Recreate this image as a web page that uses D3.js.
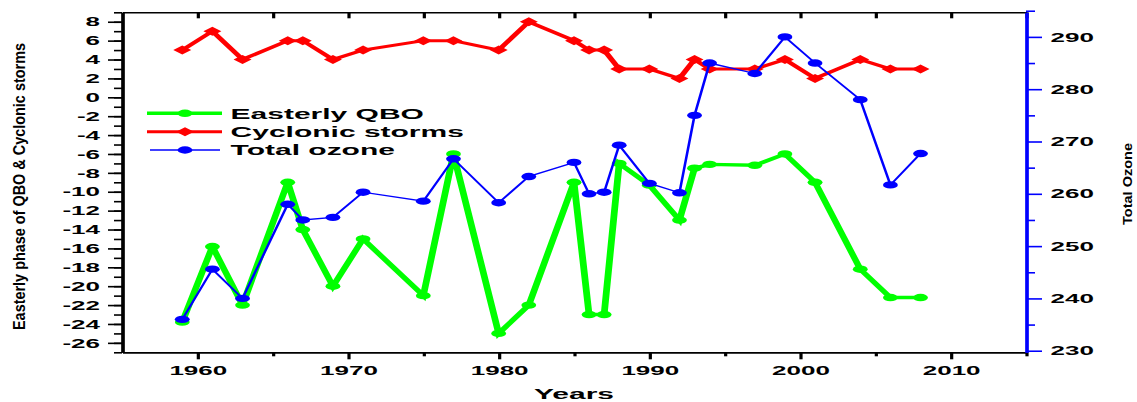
<!DOCTYPE html>
<html>
<head>
<meta charset="utf-8">
<script src="https://cdn.jsdelivr.net/npm/d3@7"></script>
<style>
	body { margin: 0; background: #fff; }
	text { font-family: "Liberation Sans", Arial, sans-serif; font-weight: bold; }
</style>
</head>
<body>
<div id="chart"></div>
<script>
var years   = [1959, 1961, 1963, 1966, 1967, 1969, 1971, 1975, 1977, 1980, 1982, 1985, 1986,
               1987, 1988, 1990, 1992, 1993, 1994, 1997, 1999, 2001, 2004, 2006, 2008];
var qbo     = [-23.8, -15.8, -22, -9, -14, -20, -15, -21, -6, -25, -22, -9, -23,
               -23, -7, -9.3, -13, -7.5, -7.1, -7.2, -6, -9, -18.2, -21.2, -21.2];
var storms  = [5, 7, 4, 6, 6, 4, 5, 6, 6, 5, 8, 6, 5,
               5, 3, 3, 2, 4, 3, 3, 4, 2, 4, 3, 3];
var ozone   = [236, 245.6, 240, 258, 255, 255.5, 260.3, 258.6, 266.7, 258.3, 263.3, 266, 260,
               260.3, 269.3, 262, 260.2, 275, 285, 283, 290, 285, 278, 261.7, 267.7];

var xMajor  = [1960, 1970, 1980, 1990, 2000, 2010];
var xMinor  = [1965, 1975, 1985, 1995, 2005, 2015];
var leftMajor  = d3.range(-26, 9, 2);
var leftMinor  = d3.range(-27, 10, 1);
var rightMajor = [230, 240, 250, 260, 270, 280, 290];
var rightMinor = [235, 245, 255, 265, 275, 285, 295];

var seriesNames = ["Easterly QBO", "Cyclonic storms", "Total ozone"];

// the original figure is stretched sideways, so everything is drawn at half width
var S = 2;
var margin = {top: 12.3, right: 568.5 - 513, bottom: 402 - 352.3, left: 61};
var innerW = 568.5 - margin.left - margin.right;
var innerH = 402 - margin.top - margin.bottom;

var svg = d3.select("#chart").append("svg")
	.attr("width", 1137)
	.attr("height", 402);

var root = svg.append("g").attr("transform", "scale(" + S + ",1)");
var g = root.append("g").attr("transform", "translate(" + margin.left + "," + margin.top + ")");

var x  = d3.scaleLinear().domain([1955, 2015]).range([0, innerW]);
var yL = d3.scaleLinear().domain([-27, 9]).range([innerH, 0]);
var yR = d3.scaleLinear().domain([229.7, 294.7]).range([innerH, 0]);

function styleAxis(sel, color) {
	sel.selectAll("path").attr("stroke", color).attr("stroke-width", 1.6);
	sel.selectAll("line").attr("stroke", color).attr("stroke-width", 1.6);
	sel.selectAll("text")
		.attr("fill", "#000")
		.style("font-family", '"Liberation Sans", Arial, sans-serif')
		.style("font-weight", "bold")
		.style("font-size", "13px");
	sel.attr("font-family", null).attr("font-size", null);
}

// top border with inside ticks
g.append("g")
	.call(d3.axisTop(x).tickValues(xMajor.concat(xMinor)).tickSize(-6).tickSizeOuter(0).tickFormat(""))
	.call(styleAxis, "#000");

// bottom axis
g.append("g")
	.attr("transform", "translate(0," + innerH + ")")
	.call(d3.axisBottom(x).tickValues(xMinor).tickSize(4).tickSizeOuter(0).tickFormat(""))
	.call(styleAxis, "#000");
g.append("g")
	.attr("transform", "translate(0," + innerH + ")")
	.call(d3.axisBottom(x).tickValues(xMajor).tickSize(7).tickPadding(6.5).tickSizeOuter(0).tickFormat(d => String(d)))
	.call(styleAxis, "#000");

// left axis
g.append("g")
	.call(d3.axisLeft(yL).tickValues(leftMinor).tickSize(4).tickSizeOuter(0).tickFormat(""))
	.call(styleAxis, "#000");
g.append("g")
	.call(d3.axisLeft(yL).tickValues(leftMajor).tickSize(7).tickPadding(4).tickSizeOuter(0).tickFormat(d => String(d)))
	.call(styleAxis, "#000");

// right axis (blue)
g.append("g")
	.attr("transform", "translate(" + innerW + ",0)")
	.call(d3.axisRight(yR).tickValues(rightMinor).tickSize(4.5).tickSizeOuter(0).tickFormat(""))
	.call(styleAxis, "#0000ff");
g.append("g")
	.attr("transform", "translate(" + innerW + ",0)")
	.call(d3.axisRight(yR).tickValues(rightMajor).tickSize(8).tickPadding(4.3).tickSizeOuter(0).tickFormat(d => String(d)))
	.call(styleAxis, "#0000ff");

// axis titles
root.append("text")
	.attr("x", 287).attr("y", 399)
	.attr("text-anchor", "middle")
	.style("font-size", "15px")
	.text("Years");

root.append("text")
	.attr("transform", "translate(9.5,186.5)rotate(-90)")
	.attr("text-anchor", "middle")
	.attr("dy", "0.35em")
	.attr("textLength", 287)
	.attr("lengthAdjust", "spacingAndGlyphs")
	.style("font-size", "8.5px")
	.text("Easterly phase of QBO & Cyclonic storms");

root.append("text")
	.attr("transform", "translate(563.8,184)rotate(-90)")
	.attr("text-anchor", "middle")
	.attr("dy", "0.35em")
	.attr("textLength", 82)
	.attr("lengthAdjust", "spacingAndGlyphs")
	.style("font-size", "6.5px")
	.text("Total Ozone");

// series
var lineQ = d3.line().x((d, i) => x(years[i])).y(d => yL(d));
var lineO = d3.line().x((d, i) => x(years[i])).y(d => yR(d));
var diamond = "M0,-4.5L4.5,0L0,4.5L-4.5,0Z";

g.append("path").datum(qbo)
	.attr("d", lineQ)
	.attr("fill", "none").attr("stroke", "#00ff00").attr("stroke-width", 3.4);
g.selectAll(".qbo").data(qbo).enter().append("circle")
	.attr("class", "qbo")
	.attr("cx", (d, i) => x(years[i])).attr("cy", d => yL(d))
	.attr("r", 3.7).attr("fill", "#00ff00");

g.append("path").datum(storms)
	.attr("d", lineQ)
	.attr("fill", "none").attr("stroke", "#ff0000").attr("stroke-width", 3);
g.selectAll(".storm").data(storms).enter().append("path")
	.attr("class", "storm")
	.attr("transform", (d, i) => "translate(" + x(years[i]) + "," + yL(d) + ")")
	.attr("d", diamond).attr("fill", "#ff0000");

g.append("path").datum(ozone)
	.attr("d", lineO)
	.attr("fill", "none").attr("stroke", "#0000ff").attr("stroke-width", 1.3);
g.selectAll(".ozone").data(ozone).enter().append("circle")
	.attr("class", "ozone")
	.attr("cx", (d, i) => x(years[i])).attr("cy", d => yR(d))
	.attr("r", 3.7).attr("fill", "#0000ff");

// legend
var legend = root.append("g");
var rows = [113.3, 131.7, 150];
var colors = ["#00ff00", "#ff0000", "#0000ff"];
var widths = [3.4, 3, 1.3];

rows.forEach(function(ry, i) {
	legend.append("line")
		.attr("x1", i == 2 ? 75 : 73.5).attr("x2", i == 2 ? 110 : 111)
		.attr("y1", ry).attr("y2", ry)
		.attr("stroke", colors[i]).attr("stroke-width", widths[i]);
	if (i == 1)
		legend.append("path")
			.attr("transform", "translate(92.5," + ry + ")")
			.attr("d", diamond).attr("fill", colors[i]);
	else
		legend.append("circle")
			.attr("cx", 92.5).attr("cy", ry).attr("r", 3.7).attr("fill", colors[i]);
	legend.append("text")
		.attr("x", 115.3).attr("y", ry + 5.4)
		.style("font-size", "15px")
		.text(seriesNames[i]);
});
</script>
</body>
</html>
